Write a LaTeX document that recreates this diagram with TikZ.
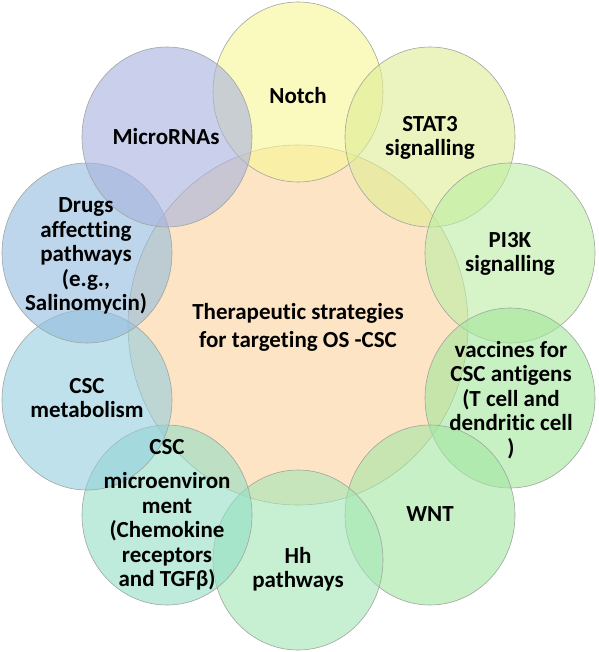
\documentclass[tikz,border=0pt]{standalone}
\usepackage{fontspec}
\setmainfont{Carlito}[Ligatures=NoCommon]
\usetikzlibrary{shapes.geometric}
\definecolor{cNotch}{RGB}{247,247,147}
\definecolor{cCenter}{RGB}{250,210,157}
\definecolor{cStat}{RGB}{222,238,147}
\definecolor{cPik}{RGB}{188,238,163}
\definecolor{cVac}{RGB}{163,230,155}
\definecolor{cWnt}{RGB}{163,230,163}
\definecolor{cHh}{RGB}{163,230,180}
\definecolor{cMicro}{RGB}{147,222,197}
\definecolor{cMetab}{RGB}{147,205,222}
\definecolor{cDrugs}{RGB}{147,188,222}
\definecolor{cMirna}{RGB}{168,178,222}
\definecolor{cEdge}{RGB}{160,165,160}
\begin{document}
\begin{tikzpicture}[x=1pt,y=-1pt,
  bub/.style={ellipse,draw=cEdge,line width=0.6pt,fill opacity=0.6,
    minimum width=170pt,minimum height=180pt,inner sep=0pt},
  bigbub/.style={ellipse,draw=cEdge,line width=0.6pt,fill opacity=0.6,
    minimum width=340pt,minimum height=360pt,inner sep=0pt},
  txt/.style={align=center,font=\fontsize{23}{24.5}\selectfont\bfseries,text=black,inner sep=0pt}]
\fill[white] (0,0) rectangle (598,652);
\useasboundingbox (0,0) rectangle (598,652);
\node[bigbub,fill=cCenter] (center) at (298,325) {};
\node[bub,fill=cNotch] (notch) at (298,92) {};
\node[bub,fill=cStat] (stat) at (430,137) {};
\node[bub,fill=cPik] (pik) at (510,253) {};
\node[bub,fill=cVac] (vac) at (510,398) {};
\node[bub,fill=cWnt] (wnt) at (430,515) {};
\node[bub,fill=cHh] (hh) at (298,560) {};
\node[bub,fill=cMicro] (micro) at (167,515) {};
\node[bub,fill=cMetab] (metab) at (87,400) {};
\node[bub,fill=cDrugs] (drugs) at (87,253) {};
\node[bub,fill=cMirna] (mirna) at (167,137) {};
\node[txt,font=\fontsize{23}{28}\selectfont\bfseries] (tcenter) at (298,327) {Therapeutic strategies\\for targeting OS -CSC};
\node[txt] (tnotch) at (298,96) {Notch};
\node[txt] (tstat) at (430,138) {STAT3\\signalling};
\node[txt] (tpik) at (510,254) {PI3K\\signalling};
\node[txt] (tvac) at (511,400) {vaccines for\\CSC antigens\\(T cell and\\dendritic cell\\)};
\node[txt] (twnt) at (430,514) {WNT};
\node[txt] (thh) at (298,569) {Hh\\pathways};
\node[txt] (tmicro) at (167,515) {CSC\\[10pt]microenviron\\ment\\(Chemokine\\receptors\\and TGFβ)};
\node[txt] (tmetab) at (87,398) {CSC\\metabolism};
\node[txt] (tdrugs) at (86,256) {Drugs\\affectting\\pathways\\(e.g.,\\Salinomycin)};
\node[txt] (tmirna) at (166,137) {MicroRNAs};
\end{tikzpicture}
\end{document}
